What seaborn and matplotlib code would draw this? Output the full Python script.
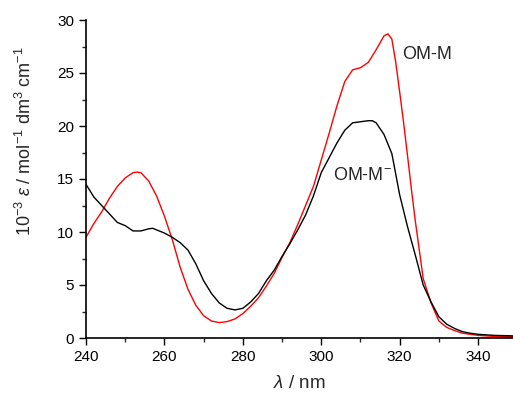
import matplotlib
matplotlib.use("Agg")
import matplotlib.pyplot as plt
import seaborn as sns
from matplotlib.ticker import MultipleLocator

# OM-M (red)
wl_red = [240, 242, 244, 246, 248, 250, 252, 253, 254, 256, 258, 260, 262, 264, 266, 268,
          270, 272, 274, 276, 278, 280, 282, 284, 286, 288, 290, 292, 294, 296, 298, 300,
          302, 304, 306, 308, 310, 312, 314, 316, 317, 318, 319, 320, 321, 322, 323, 324,
          326, 328, 330, 332, 334, 336, 338, 340, 344, 349]
eps_red = [9.5, 10.8, 11.9, 13.2, 14.3, 15.1, 15.6, 15.65, 15.6, 14.8, 13.4, 11.5, 9.3, 6.7,
           4.6, 3.1, 2.1, 1.6, 1.45, 1.55, 1.8, 2.3, 3.0, 3.8, 4.9, 6.1, 7.6, 9.0, 10.7, 12.5,
           14.3, 16.8, 19.3, 21.9, 24.2, 25.3, 25.5, 26.0, 27.2, 28.5, 28.7, 28.2, 26.0, 23.2,
           20.3, 17.2, 14.0, 11.0, 5.6, 3.3, 1.6, 1.0, 0.7, 0.45, 0.35, 0.25, 0.15, 0.12]

# OM-M- (black)
wl_blk = [240, 242, 244, 246, 248, 250, 252, 254, 256, 257, 258, 260, 262, 264, 266, 268,
          270, 272, 274, 276, 278, 280, 282, 284, 286, 288, 290, 292, 294, 296, 298, 300,
          302, 304, 306, 308, 310, 312, 313, 314, 316, 318, 320, 322, 324, 326, 328, 330,
          332, 334, 336, 338, 340, 344, 349]
eps_blk = [14.5, 13.3, 12.5, 11.7, 10.9, 10.6, 10.1, 10.1, 10.3, 10.35, 10.2, 9.9, 9.5, 9.0,
           8.3, 7.0, 5.4, 4.2, 3.3, 2.8, 2.65, 2.8, 3.4, 4.2, 5.4, 6.4, 7.7, 8.9, 10.2, 11.6,
           13.4, 15.6, 17.0, 18.4, 19.6, 20.3, 20.4, 20.5, 20.5, 20.3, 19.2, 17.4, 13.5, 10.5,
           7.8, 5.0, 3.4, 2.0, 1.3, 0.9, 0.6, 0.45, 0.35, 0.25, 0.2]

sns.set_style("ticks")
plt.rcParams["font.family"] = ["Liberation Sans", "DejaVu Sans"]
plt.rcParams["mathtext.fontset"] = "custom"
plt.rcParams["mathtext.rm"] = "Liberation Sans"
plt.rcParams["mathtext.it"] = "Liberation Sans:italic"

fig = plt.figure(figsize=(5.13, 3.97), dpi=100)
ax = fig.add_axes([86 / 513, 59 / 397, 427 / 513, 318 / 397])

sns.lineplot(x=wl_red, y=eps_red, color="red", lw=1.0, ax=ax)
sns.lineplot(x=wl_blk, y=eps_blk, color="black", lw=1.0, ax=ax)

ax.set_xlim(240, 348.9)
ax.set_ylim(0, 30)
ax.xaxis.set_major_locator(MultipleLocator(20))
ax.xaxis.set_minor_locator(MultipleLocator(10))
ax.yaxis.set_major_locator(MultipleLocator(5))
ax.yaxis.set_minor_locator(MultipleLocator(2.5))
ax.tick_params(which="major", direction="out", length=5, width=1, labelsize=11, colors="black")
ax.tick_params(which="minor", direction="out", length=3, width=1)

for s in ["top", "right"]:
    ax.spines[s].set_visible(False)
for s in ["left", "bottom"]:
    ax.spines[s].set_linewidth(1.2)
    ax.spines[s].set_color("black")

ax.set_xlabel(r"$\it{\lambda}$ / nm", fontsize=13.5, labelpad=8)
ax.set_ylabel(r"10$^{-3}$ $\it{\varepsilon}$ / mol$^{-1}$ dm$^{3}$ cm$^{-1}$", fontsize=13)
ax.yaxis.set_label_coords(-0.12, 0.62)

ax.text(320.6, 26.7, "OM-M", fontsize=13, va="center", ha="left")
ax.text(303.0, 15.3, r"OM-M$^{-}$", fontsize=13, va="center", ha="left")

fig.savefig("out.png", dpi=100)
